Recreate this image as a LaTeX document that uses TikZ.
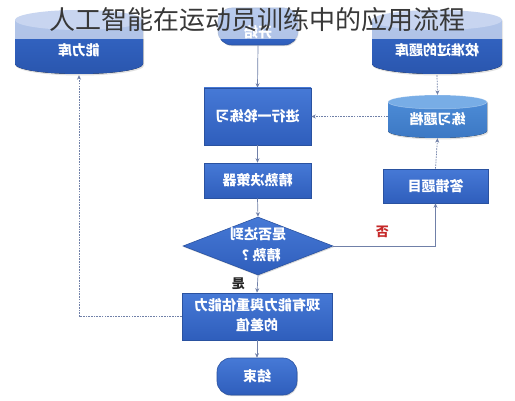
\documentclass[tikz,border=0pt]{standalone}
\usepackage{fontspec}
\usepackage{graphicx}
\setmainfont{Noto Sans CJK SC}
\usetikzlibrary{shapes.geometric,arrows.meta,shadows}
\definecolor{boxtop}{HTML}{4679D6}
\definecolor{boxbot}{HTML}{2F5EBC}
\definecolor{boxline}{HTML}{2A52A0}
\definecolor{cyltop}{HTML}{6F93D8}
\definecolor{cylbody}{HTML}{3568C8}
\definecolor{cylbodybot}{HTML}{2A56AE}
\definecolor{practop}{HTML}{78ADE6}
\definecolor{pracbody}{HTML}{4C8BD6}
\definecolor{pracbodybot}{HTML}{3C78C4}
\definecolor{connc}{HTML}{7080A8}
\definecolor{noc}{HTML}{C62828}
\newcommand\mirtext[1]{\reflectbox{#1}}
\newcommand\mirlines[1]{\reflectbox{\begin{tabular}{@{}c@{}}#1\end{tabular}}}
\begin{document}
\begin{tikzpicture}[x=1pt,y=1pt,
  shadefill/.style={top color=boxtop, bottom color=boxbot, draw=boxline, line width=0.6pt,
    drop shadow={opacity=0.3,shadow xshift=0.8pt,shadow yshift=-1.2pt}, inner sep=0pt},
  boxsty/.style={rectangle, shadefill},
  termsty/.style={boxsty, rounded corners=14pt},
  diasty/.style={diamond, shadefill},
  wtxt/.style={text=white, font=\bfseries\fontsize{14}{20}\selectfont, align=center, inner sep=0pt},
  conn/.style={draw=connc, line width=0.7pt, -{Stealth[length=4.5pt,width=4pt]}},
  dconn/.style={conn, dash pattern=on 1.6pt off 1.1pt},
  area/.style={rectangle, inner sep=0pt, draw=none}
]
\useasboundingbox (0,0) rectangle (515,400);
\fill[white] (0,0) rectangle (515,400);

% cylinder: ability bank
\fill[black,opacity=0.12] (16,379) -- (16,334.5) arc[start angle=180,end angle=360,x radius=64,y radius=10] -- (144,379) -- cycle;
\fill[top color=cylbody, bottom color=cylbodybot] (15,380) -- (15,336) arc[start angle=180,end angle=360,x radius=64,y radius=10] -- (143,380) -- cycle;
\fill[cyltop] (79,380) ellipse[x radius=64,y radius=10];
\node[area, minimum width=128pt, minimum height=65pt] (kb) at (79,357.5) {};
\node[wtxt] (kbt) at (79,350) {\mirtext{能力库}};

% cylinder: calibrated bank
\fill[black,opacity=0.12] (373,379) -- (373,334.5) arc[start angle=180,end angle=360,x radius=65,y radius=10] -- (503,379) -- cycle;
\fill[top color=cylbody, bottom color=cylbodybot] (372,380) -- (372,336) arc[start angle=180,end angle=360,x radius=65,y radius=10] -- (502,380) -- cycle;
\fill[cyltop] (437,380) ellipse[x radius=65,y radius=10];
\node[area, minimum width=130pt, minimum height=65pt] (bank) at (437,357.5) {};
\node[wtxt] (bankt) at (437,350) {\mirtext{校准过的题库}};

% cylinder: practice items
\fill[black,opacity=0.12] (389,297) -- (389,267.5) arc[start angle=180,end angle=360,x radius=49.5,y radius=7] -- (488,297) -- cycle;
\fill[top color=pracbody, bottom color=pracbodybot] (388,298) -- (388,269) arc[start angle=180,end angle=360,x radius=49.5,y radius=7] -- (487,298) -- cycle;
\fill[practop] (437.5,298) ellipse[x radius=49.5,y radius=7];
\draw[white,opacity=0.35,line width=0.5pt] (437.5,298) ellipse[x radius=49.5,y radius=7];
\node[area, minimum width=99pt, minimum height=43pt] (prac) at (437.5,283.5) {};
\node[wtxt] (pract) at (437.5,281) {\mirtext{练习题档}};

% flow boxes
\node[termsty, minimum width=80pt, minimum height=37pt] (start) at (258,373.5) {};
\node[wtxt] at (258,368) {\mirtext{开始}};
\node[boxsty, minimum width=107pt, minimum height=57pt] (train) at (257.5,283.5) {};
\node[wtxt] at (train.center) {\mirtext{进行一轮练习}};
\node[boxsty, minimum width=107pt, minimum height=35pt] (judge) at (257.5,219.5) {};
\node[wtxt] at (judge.center) {\mirtext{精熟决策器}};
\node[diasty, minimum width=150pt, minimum height=58pt] (dia) at (258,154) {};
\node[wtxt] at (dia.center) {\mirlines{是否达到\\精熟 ？}};
\node[boxsty, minimum width=150pt, minimum height=47pt] (gap) at (257,83.5) {};
\node[wtxt] at (gap.center) {\mirlines{现有能力與重估能力\\的差值}};
\node[termsty, minimum width=80pt, minimum height=37pt] (end) at (257,23.5) {};
\node[wtxt] at (end.center) {\mirtext{结束}};
\node[boxsty, minimum width=105pt, minimum height=34pt] (wrong) at (435.5,214) {};
\node[wtxt] at (wrong.center) {\mirtext{答错题目}};

% connectors
\draw[conn] (start.south) -- (train.north);
\draw[conn] (train.south) -- (judge.north);
\draw[conn] (judge.south) -- (dia.north);
\draw[conn] (dia.south) -- node[left=9pt, font=\bfseries\fontsize{13}{13}\selectfont, text=black!85] {\mirtext{是}} (gap.north);
\draw[conn] (gap.south) -- (end.north);
\draw[conn] (dia.east) -| node[pos=0.24, above=5pt, font=\bfseries\fontsize{13}{13}\selectfont, text=noc] {否} (wrong.south);
\draw[dconn] (wrong.north) -- (prac.south);
\draw[dconn] (bank.south) -- (prac.north);
\draw[dconn] (prac.west) -- (train.east);
\draw[dconn] (gap.west) -| (kb.south);

% title band
\fill[white, opacity=0.62] (0,361) rectangle (515,400);
\node[font=\fontsize{26}{30}\selectfont, text=black!78, inner sep=0pt] (title) at (257.5,380) {人工智能在运动员训练中的应用流程};
\end{tikzpicture}
\end{document}
